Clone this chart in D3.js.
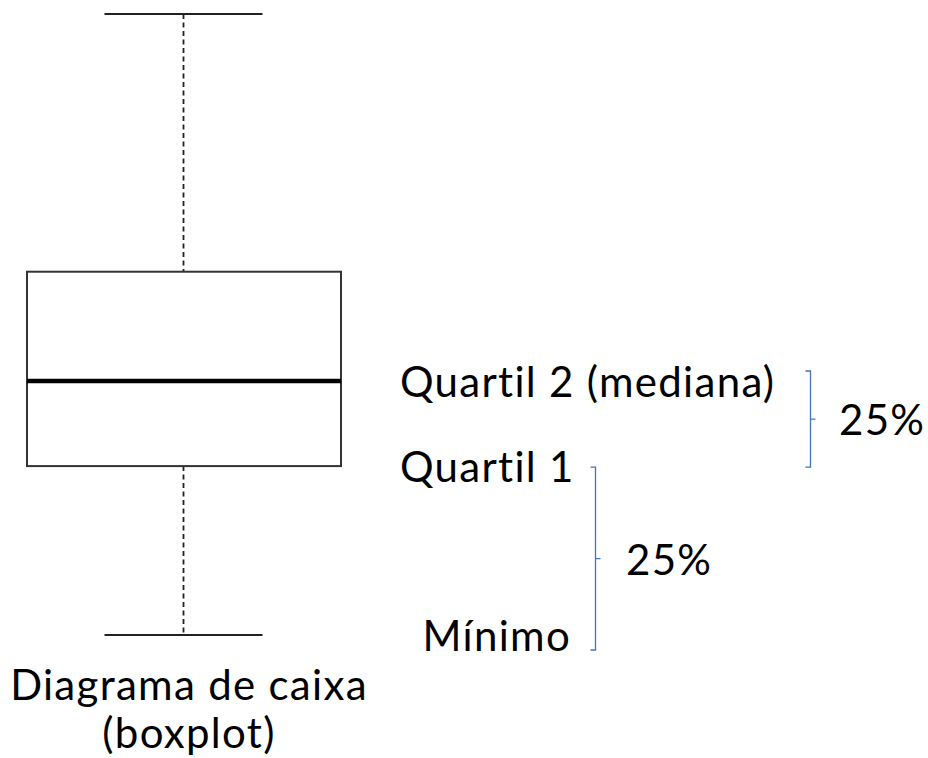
<!DOCTYPE html>
<html>
<head>
<meta charset="utf-8">
<script src="https://cdn.jsdelivr.net/npm/d3@7"></script>
<style>
  html, body { margin: 0; padding: 0; background: #fff; }
  text { font-family: Lato, "Open Sans", sans-serif; fill: #000; font-variant-ligatures: none; letter-spacing: 1.3px; }
</style>
</head>
<body>
<svg id="chart" width="928" height="758"></svg>
<script>
// Five-number summary of the illustrated distribution
const statNames = ["min", "q1", "median", "q3", "max"];
const statValues = [0, 27.2, 40.9, 58.5, 100];

// Annotation labels placed beside the box
const labelNames = ["Quartil 2 (mediana)", "Quartil 1", "Mínimo"];
const labelStats = ["median", "q1", "min"];
const braceLabels = ["25%", "25%"];
const titleLines = ["Diagrama de caixa", "(boxplot)"];

const stats = Object.fromEntries(statNames.map((n, i) => [n, statValues[i]]));

const svg = d3.select("#chart");
const y = d3.scaleLinear().domain([0, 100]).range([635, 14]);
const x = d3.scaleLinear().domain([0, 1]).range([27, 341]);
const cx = x(0.5) - 0.5;
const capHalf = 79;

const g = svg.append("g");

// Whiskers (dashed)
g.append("line")
  .attr("x1", cx).attr("x2", cx)
  .attr("y1", y(stats.max)).attr("y2", y(stats.q3))
  .attr("stroke", "#222").attr("stroke-width", 1.8).attr("stroke-dasharray", "5,3.5");
g.append("line")
  .attr("x1", cx).attr("x2", cx)
  .attr("y1", y(stats.q1)).attr("y2", y(stats.min))
  .attr("stroke", "#222").attr("stroke-width", 1.8).attr("stroke-dasharray", "5,3.5");

// Whisker caps
[stats.max, stats.min].forEach(v => {
  g.append("line")
    .attr("x1", cx - capHalf).attr("x2", cx + capHalf)
    .attr("y1", y(v)).attr("y2", y(v))
    .attr("stroke", "#222").attr("stroke-width", 2);
});

// Box
g.append("rect")
  .attr("x", x(0)).attr("y", y(stats.q3))
  .attr("width", x(1) - x(0)).attr("height", y(stats.q1) - y(stats.q3))
  .attr("fill", "none").attr("stroke", "#333").attr("stroke-width", 2);

// Median
g.append("line")
  .attr("x1", x(0)).attr("x2", x(1))
  .attr("y1", y(stats.median)).attr("y2", y(stats.median))
  .attr("stroke", "#000").attr("stroke-width", 4.5);

// Side labels
const fontSize = 42;
const labelX = [400, 400, 571];
const labelAnchor = ["start", "start", "end"];
labelNames.forEach((t, i) => {
  svg.append("text")
    .attr("x", labelX[i])
    .attr("y", y(stats[labelStats[i]]) + 16)
    .attr("text-anchor", labelAnchor[i])
    .attr("font-size", fontSize)
    .text(t);
});

// Braces
const braceColor = "#4472c4";
function brace(xv, y0, y1, label, lx) {
  const ym = (y0 + y1) / 2;
  const p = d3.path();
  p.moveTo(xv - 5, y0); p.lineTo(xv, y0); p.lineTo(xv, y1); p.lineTo(xv - 5, y1);
  p.moveTo(xv, ym); p.lineTo(xv + 5, ym);
  svg.append("path").attr("d", p.toString())
    .attr("fill", "none").attr("stroke", braceColor).attr("stroke-width", 1.3);
  svg.append("text")
    .attr("x", lx).attr("y", ym + 16)
    .attr("font-size", fontSize)
    .text(label);
}
brace(810.5, y(stats.median) - 10, y(stats.q1) + 1, braceLabels[0], 839);
brace(595.5, y(stats.q1) + 1, y(stats.min) + 15, braceLabels[1], 626);

// Title beneath the box
titleLines.forEach((t, i) => {
  svg.append("text")
    .attr("x", 189).attr("y", 700 + i * 48)
    .attr("text-anchor", "middle")
    .attr("font-size", fontSize)
    .text(t);
});
</script>
</body>
</html>
